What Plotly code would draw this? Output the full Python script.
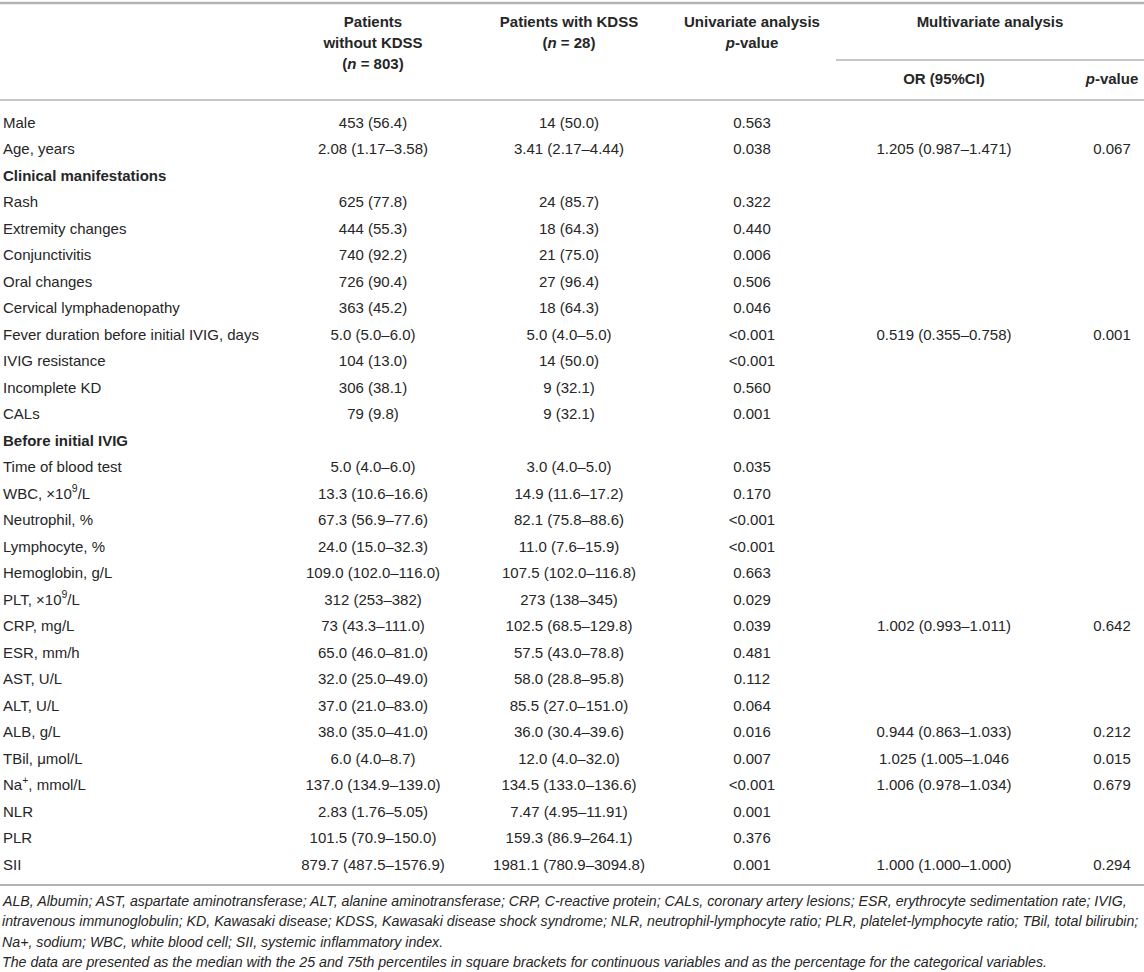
import plotly.graph_objects as go

# ---- table data ----
row_labels = [
    "Male", "Age, years", "<b>Clinical manifestations</b>", "Rash", "Extremity changes",
    "Conjunctivitis", "Oral changes", "Cervical lymphadenopathy",
    "Fever duration before initial IVIG, days", "IVIG resistance", "Incomplete KD", "CALs",
    "<b>Before initial IVIG</b>", "Time of blood test", "WBC, ×10<sup>9</sup>/L", "Neutrophil, %",
    "Lymphocyte, %", "Hemoglobin, g/L", "PLT, ×10<sup>9</sup>/L", "CRP, mg/L", "ESR, mm/h",
    "AST, U/L", "ALT, U/L", "ALB, g/L", "TBil, μmol/L", "Na<sup>+</sup>, mmol/L", "NLR", "PLR", "SII",
]

without_kdss = [
    "453 (56.4)", "2.08 (1.17–3.58)", "", "625 (77.8)", "444 (55.3)", "740 (92.2)", "726 (90.4)",
    "363 (45.2)", "5.0 (5.0–6.0)", "104 (13.0)", "306 (38.1)", "79 (9.8)", "", "5.0 (4.0–6.0)",
    "13.3 (10.6–16.6)", "67.3 (56.9–77.6)", "24.0 (15.0–32.3)", "109.0 (102.0–116.0)",
    "312 (253–382)", "73 (43.3–111.0)", "65.0 (46.0–81.0)", "32.0 (25.0–49.0)",
    "37.0 (21.0–83.0)", "38.0 (35.0–41.0)", "6.0 (4.0–8.7)", "137.0 (134.9–139.0)",
    "2.83 (1.76–5.05)", "101.5 (70.9–150.0)", "879.7 (487.5–1576.9)",
]

with_kdss = [
    "14 (50.0)", "3.41 (2.17–4.44)", "", "24 (85.7)", "18 (64.3)", "21 (75.0)", "27 (96.4)",
    "18 (64.3)", "5.0 (4.0–5.0)", "14 (50.0)", "9 (32.1)", "9 (32.1)", "", "3.0 (4.0–5.0)",
    "14.9 (11.6–17.2)", "82.1 (75.8–88.6)", "11.0 (7.6–15.9)", "107.5 (102.0–116.8)",
    "273 (138–345)", "102.5 (68.5–129.8)", "57.5 (43.0–78.8)", "58.0 (28.8–95.8)",
    "85.5 (27.0–151.0)", "36.0 (30.4–39.6)", "12.0 (4.0–32.0)", "134.5 (133.0–136.6)",
    "7.47 (4.95–11.91)", "159.3 (86.9–264.1)", "1981.1 (780.9–3094.8)",
]

univariate_p = [
    "0.563", "0.038", "", "0.322", "0.440", "0.006", "0.506", "0.046", "&lt;0.001", "&lt;0.001",
    "0.560", "0.001", "", "0.035", "0.170", "&lt;0.001", "&lt;0.001", "0.663", "0.029", "0.039",
    "0.481", "0.112", "0.064", "0.016", "0.007", "&lt;0.001", "0.001", "0.376", "0.001",
]

multivariate_or = [
    "", "1.205 (0.987–1.471)", "", "", "", "", "", "", "0.519 (0.355–0.758)", "", "", "",
    "", "", "", "", "", "", "", "1.002 (0.993–1.011)", "", "", "", "0.944 (0.863–1.033)",
    "1.025 (1.005–1.046", "1.006 (0.978–1.034)", "", "", "1.000 (1.000–1.000)",
]

multivariate_p = [
    "", "0.067", "", "", "", "", "", "", "0.001", "", "", "",
    "", "", "", "", "", "", "", "0.642", "", "", "", "0.212",
    "0.015", "0.679", "", "", "0.294",
]

header_lines = [
    ["<b>Patients</b>", "<b>without KDSS</b>", "<b>(<i>n</i> = 803)</b>"],
    ["<b>Patients with KDSS</b>", "<b>(<i>n</i> = 28)</b>"],
    ["<b>Univariate analysis</b>", "<b><i>p</i>-value</b>"],
]
multi_header = "<b>Multivariate analysis</b>"
multi_sub_headers = ["<b>OR (95%CI)</b>", "<b><i>p</i>-value</b>"]

footnotes = [
    "ALB, Albumin; AST, aspartate aminotransferase; ALT, alanine aminotransferase; CRP, C-reactive protein; "
    "CALs, coronary artery lesions; ESR, erythrocyte sedimentation rate; IVIG,",
    "intravenous immunoglobulin; KD, Kawasaki disease; KDSS, Kawasaki disease shock syndrome; NLR, "
    "neutrophil-lymphocyte ratio; PLR, platelet-lymphocyte ratio; TBil, total bilirubin;",
    "Na+, sodium; WBC, white blood cell; SII, systemic inflammatory index.",
    "The data are presented as the median with the 25 and 75th percentiles in square brackets for "
    "continuous variables and as the percentage for the categorical variables.",
]

# ---- layout constants (page-pixel units) ----
W, H = 1144, 972
TXT = "#262626"
RULE = "#b3b3b3"
FONT = "Liberation Sans, Arial, sans-serif"
FS = 15

label_x = 3
col_x = [373, 569, 752, 944, 1112]
first_row_y, row_h = 124, 26.5
header_y = [23, 44, 65]
sub_header_y = 80
row_y = [first_row_y + i * row_h for i in range(len(row_labels))]

fig = go.Figure()


def text_trace(xs, ys, texts, pos):
    keep = [(x, y, t) for x, y, t in zip(xs, ys, texts) if t]
    return go.Scatter(x=[k[0] for k in keep], y=[k[1] for k in keep], text=[k[2] for k in keep],
                      mode="text", textposition=pos, cliponaxis=False,
                      textfont=dict(family=FONT, size=FS, color=TXT),
                      hoverinfo="skip", showlegend=False)


# row labels
fig.add_trace(text_trace([label_x] * len(row_labels), row_y, row_labels, "middle right"))
# body columns
for cx, col in zip(col_x, [without_kdss, with_kdss, univariate_p, multivariate_or, multivariate_p]):
    fig.add_trace(text_trace([cx] * len(col), row_y, col, "middle center"))

# headers
for cx, lines in zip(col_x[:3], header_lines):
    fig.add_trace(text_trace([cx] * len(lines), header_y[:len(lines)], lines, "middle center"))
multi_left = 836
fig.add_trace(text_trace([(multi_left + W) / 2], [header_y[0]], [multi_header], "middle center"))
fig.add_trace(text_trace(col_x[3:], [sub_header_y] * 2, multi_sub_headers, "middle center"))

# rules
fig.add_shape(type="line", x0=0, x1=W, y0=3, y1=3, line=dict(color=RULE, width=2.5))
fig.add_shape(type="line", x0=multi_left, x1=W, y0=60, y1=60, line=dict(color=RULE, width=1.5))
fig.add_shape(type="line", x0=0, x1=W, y0=100, y1=100, line=dict(color=RULE, width=1.5))
fig.add_shape(type="line", x0=0, x1=W, y0=885, y1=885, line=dict(color=RULE, width=2))

# footnotes
for i, note in enumerate(footnotes):
    fig.add_annotation(x=0, y=901 + i * 20.3, xref="x", yref="y", text="<i>" + note + "</i>",
                       showarrow=False, xanchor="left", yanchor="middle",
                       font=dict(family=FONT, size=14.2, color=TXT))

fig.update_layout(
    width=W, height=H,
    margin=dict(l=0, r=0, t=0, b=0),
    paper_bgcolor="white", plot_bgcolor="white",
    xaxis=dict(range=[0, W], visible=False, fixedrange=True),
    yaxis=dict(range=[H, 0], visible=False, fixedrange=True),
)

# the page body keeps its default 8px margin otherwise
fig.write_html("out.html", config={"displayModeBar": False},
               post_script="document.body.style.margin = '0';")
